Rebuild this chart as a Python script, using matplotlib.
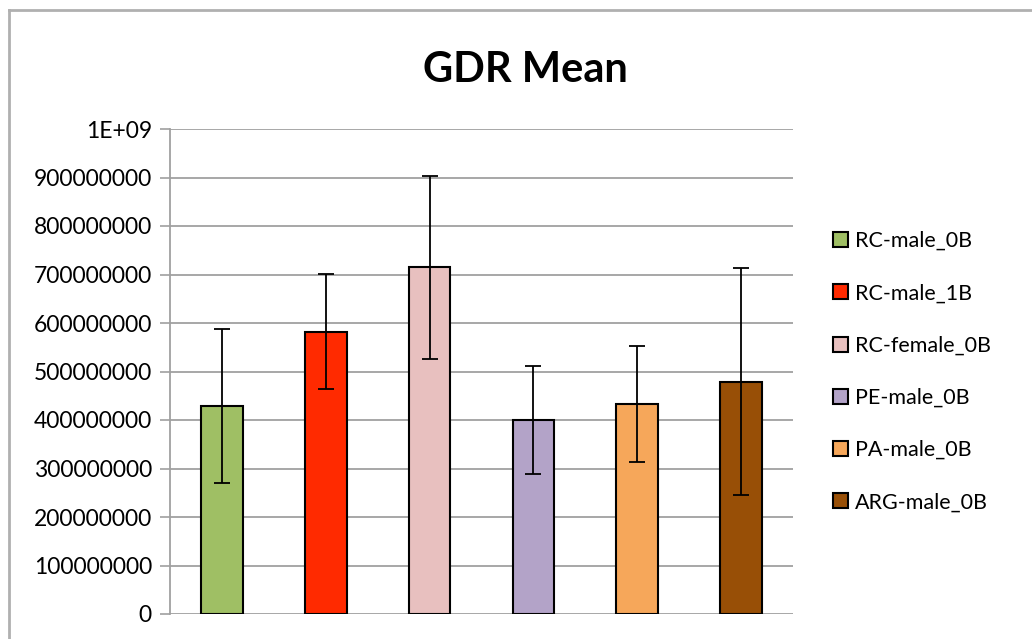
import matplotlib
matplotlib.use("Agg")
import matplotlib.pyplot as plt
from matplotlib.lines import Line2D
from matplotlib.ticker import FuncFormatter

plt.rcParams['font.family'] = ['Lato', 'DejaVu Sans']

# data
groups = ["RC-male_0B", "RC-male_1B", "RC-female_0B", "PE-male_0B", "PA-male_0B", "ARG-male_0B"]
means = [429e6, 582e6, 715e6, 400e6, 433e6, 479e6]
errors = [158e6, 119e6, 189e6, 111e6, 120e6, 234e6]
colors = ["#9fbf64", "#ff2a00", "#e8c0bf", "#b3a3c8", "#f6a75a", "#984f06"]
yticks = [0, 1e8, 2e8, 3e8, 4e8, 5e8, 6e8, 7e8, 8e8, 9e8, 1e9]

fig = plt.figure(figsize=(10.32, 6.39), dpi=100)
ax = fig.add_axes([170 / 1032, 1 - 614 / 639, 623 / 1032, 485 / 639])

x = list(range(len(groups)))
bars = ax.bar(x, means, width=0.40, color=colors, edgecolor="black", linewidth=1.5,
              label=groups, zorder=3)
ax.errorbar(x, means, yerr=errors, fmt="none", ecolor="black", elinewidth=1.3,
            capsize=6, capthick=1.3, zorder=4)

ax.set_xlim(-0.5, len(groups) - 0.5)
ax.set_ylim(0, 1e9)
ax.set_yticks(yticks)


def fmt(v, pos):
    if v >= 1e9:
        return "1E+09"
    return "%d" % v


ax.yaxis.set_major_formatter(FuncFormatter(fmt))
ax.tick_params(axis="y", length=7, width=1.2, color="#a0a0a0", labelsize=16.5, pad=6)
ax.tick_params(axis="x", length=0, labelbottom=False)
ax.grid(axis="y", color="#a0a0a0", linewidth=1.3, zorder=0)
for s in ["top", "right", "bottom"]:
    ax.spines[s].set_visible(False)
ax.spines["left"].set_color("#a0a0a0")
ax.spines["left"].set_linewidth(1.3)

fig.text(525 / 1032, 1 - 70 / 639, "GDR Mean", ha="center", va="center",
         fontsize=30, fontweight="bold")

leg = fig.legend(bars, groups, loc="upper left", bbox_to_anchor=(833 / 1032, 1 - 231 / 639),
                 frameon=False, fontsize=15.5, handlelength=0.7, handleheight=0.7,
                 handletextpad=0.3, labelspacing=1.5, borderaxespad=0, borderpad=0)

# chart frame
fig.add_artist(Line2D([9 / 1032, 9 / 1032], [0, 1 - 10 / 639], transform=fig.transFigure,
                      color="#b0b0b0", linewidth=2))
fig.add_artist(Line2D([9 / 1032, 1], [1 - 10 / 639, 1 - 10 / 639], transform=fig.transFigure,
                      color="#b0b0b0", linewidth=2))

fig.savefig("out.png", dpi=100)
